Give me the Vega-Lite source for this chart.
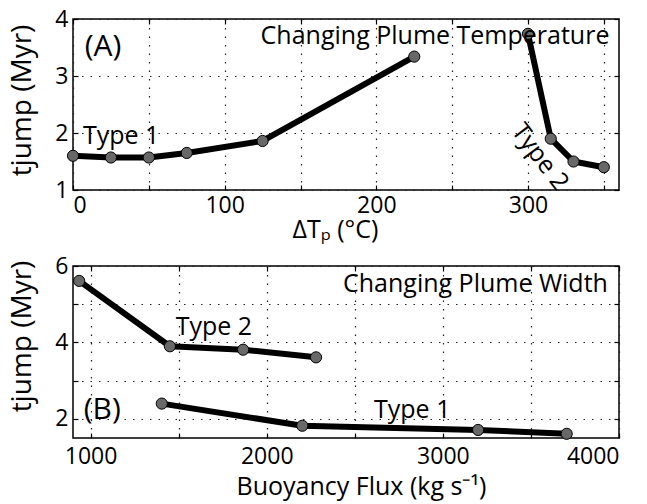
{
  "$schema": "https://vega.github.io/schema/vega-lite/v6.json",
  "autosize": {"type": "none"},
  "padding": {"left": 73, "top": 19, "right": 574, "bottom": 485},
  "background": "white",
  "config": {
    "font": "Open Sans",
    "view": {"stroke": "#000", "strokeWidth": 1.5},
    "axis": {
      "domain": false,
      "tickColor": "#000",
      "tickSize": -5,
      "tickWidth": 1.2,
      "labelColor": "#000",
      "labelFont": "Open Sans",
      "labelFontSize": 23,
      "titleColor": "#000",
      "titleFont": "Open Sans",
      "titleFontWeight": "normal",
      "gridColor": "#222",
      "gridDash": [1.5, 7],
      "gridWidth": 1.2,
      "gridOpacity": 1
    }
  },
  "datasets": {
    "temp": [
      {"dT": 0, "tjump": 1.6, "type": "Type 1"},
      {"dT": 25, "tjump": 1.57, "type": "Type 1"},
      {"dT": 50, "tjump": 1.57, "type": "Type 1"},
      {"dT": 75, "tjump": 1.65, "type": "Type 1"},
      {"dT": 125, "tjump": 1.86, "type": "Type 1"},
      {"dT": 225, "tjump": 3.34, "type": "Type 1"},
      {"dT": 300, "tjump": 3.74, "type": "Type 2"},
      {"dT": 315, "tjump": 1.9, "type": "Type 2"},
      {"dT": 330, "tjump": 1.5, "type": "Type 2"},
      {"dT": 350, "tjump": 1.4, "type": "Type 2"}
    ],
    "flux": [
      {"flux": 935, "tjump": 5.61, "type": "Type 2"},
      {"flux": 1450, "tjump": 3.9, "type": "Type 2"},
      {"flux": 1866, "tjump": 3.81, "type": "Type 2"},
      {"flux": 2280, "tjump": 3.61, "type": "Type 2"},
      {"flux": 1404, "tjump": 2.4, "type": "Type 1"},
      {"flux": 2202, "tjump": 1.82, "type": "Type 1"},
      {"flux": 3200, "tjump": 1.71, "type": "Type 1"},
      {"flux": 3703, "tjump": 1.61, "type": "Type 1"}
    ],
    "tempLabels": [
      {"dT": 238.7, "tjump": 3.7, "label": "Changing Plume Temperature"},
      {"dT": 31.7, "tjump": 1.94, "label": "Type 1"}
    ],
    "tempLetter": [{"dT": 19.8, "tjump": 3.51, "label": "(A)"}],
    "tempRot": [{"dT": 308, "tjump": 1.58, "label": "Type 2"}],
    "fluxLabels": [
      {"flux": 3185, "tjump": 5.52, "label": "Changing Plume Width"},
      {"flux": 1700, "tjump": 4.4, "label": "Type 2"},
      {"flux": 2826, "tjump": 2.22, "label": "Type 1"}
    ],
    "fluxLetter": [{"flux": 1066, "tjump": 2.24, "label": "(B)"}]
  },
  "vconcat": [
    {
      "width": 546,
      "height": 171,
      "resolve": {"axis": {"x": "independent", "y": "independent"}},
      "layer": [
        {
          "data": {"name": "temp"},
          "mark": {"type": "line", "color": "#000", "strokeWidth": 6, "strokeJoin": "round", "strokeCap": "round"},
          "encoding": {
            "x": {"field": "dT", "type": "quantitative",
              "scale": {"domain": [0, 360], "nice": false, "zero": false},
              "axis": {"values": [0, 50, 100, 150, 200, 250, 300, 350],
                "labelExpr": "datum.value % 100 === 0 ? datum.label : ''",
                "grid": true, "labelPadding": 9,
                "title": "ΔTₚ (°C)", "titleFontSize": 25,
                "titleX": 262, "titleY": 47, "titleBaseline": "alphabetic", "titleAlign": "center"}},
            "y": {"field": "tjump", "type": "quantitative",
              "scale": {"domain": [1, 4], "nice": false, "zero": false},
              "axis": {"values": [1, 2, 3, 4], "grid": true, "labelPadding": 10,
                "title": "tjump (Myr)", "titleFontSize": 28,
                "titleX": -43, "titleY": 81, "titleAngle": -90, "titleBaseline": "alphabetic", "titleAlign": "center"}},
            "detail": {"field": "type"}
          }
        },
        {
          "data": {"name": "temp"},
          "mark": {"type": "circle", "fill": "#686868", "stroke": "#000", "strokeWidth": 1, "size": 125, "opacity": 1},
          "encoding": {
            "x": {"field": "dT", "type": "quantitative",
              "scale": {"domain": [0, 360], "nice": false, "zero": false},
              "axis": {"orient": "top", "values": [0, 50, 100, 150, 200, 250, 300, 350], "labels": false, "grid": false, "title": null}},
            "y": {"field": "tjump", "type": "quantitative",
              "scale": {"domain": [1, 4], "nice": false, "zero": false},
              "axis": {"orient": "right", "values": [1, 2, 3, 4], "labels": false, "grid": false, "title": null}}
          }
        },
        {
          "data": {"name": "tempLabels"},
          "mark": {"type": "text", "fontSize": 25, "color": "#000", "align": "center", "baseline": "middle"},
          "encoding": {
            "x": {"field": "dT", "type": "quantitative", "scale": {"domain": [0, 360], "nice": false, "zero": false}, "axis": null},
            "y": {"field": "tjump", "type": "quantitative", "scale": {"domain": [1, 4], "nice": false, "zero": false}, "axis": null},
            "text": {"field": "label"}
          }
        },
        {
          "data": {"name": "tempLetter"},
          "mark": {"type": "text", "fontSize": 30, "color": "#000", "align": "center", "baseline": "middle"},
          "encoding": {
            "x": {"field": "dT", "type": "quantitative", "scale": {"domain": [0, 360], "nice": false, "zero": false}, "axis": null},
            "y": {"field": "tjump", "type": "quantitative", "scale": {"domain": [1, 4], "nice": false, "zero": false}, "axis": null},
            "text": {"field": "label"}
          }
        },
        {
          "data": {"name": "tempRot"},
          "mark": {"type": "text", "fontSize": 25, "color": "#000", "align": "center", "baseline": "middle", "angle": 53},
          "encoding": {
            "x": {"field": "dT", "type": "quantitative", "scale": {"domain": [0, 360], "nice": false, "zero": false}, "axis": null},
            "y": {"field": "tjump", "type": "quantitative", "scale": {"domain": [1, 4], "nice": false, "zero": false}, "axis": null},
            "text": {"field": "label"}
          }
        }
      ]
    },
    {
      "width": 546,
      "height": 172,
      "resolve": {"axis": {"x": "independent", "y": "independent"}},
      "layer": [
        {
          "data": {"name": "flux"},
          "mark": {"type": "line", "color": "#000", "strokeWidth": 6, "strokeJoin": "round", "strokeCap": "round"},
          "encoding": {
            "x": {"field": "flux", "type": "quantitative",
              "scale": {"domain": [900, 4000], "nice": false, "zero": false},
              "axis": {"values": [1000, 1500, 2000, 2500, 3000, 3500, 4000],
                "labelExpr": "datum.value % 1000 === 0 ? datum.label : ''",
                "format": "d",
                "grid": true, "labelPadding": 12,
                "title": "Buoyancy Flux (kg s⁻¹)", "titleFontSize": 25,
                "titleX": 288, "titleY": 56, "titleBaseline": "alphabetic", "titleAlign": "center"}},
            "y": {"field": "tjump", "type": "quantitative",
              "scale": {"domain": [1.5, 6], "nice": false, "zero": false},
              "axis": {"values": [2, 3, 4, 5, 6],
                "labelExpr": "datum.value % 2 === 0 ? datum.label : ''",
                "grid": true, "labelPadding": 10,
                "title": "tjump (Myr)", "titleFontSize": 28,
                "titleX": -43, "titleY": 70, "titleAngle": -90, "titleBaseline": "alphabetic", "titleAlign": "center"}},
            "detail": {"field": "type"}
          }
        },
        {
          "data": {"name": "flux"},
          "mark": {"type": "circle", "fill": "#686868", "stroke": "#000", "strokeWidth": 1, "size": 125, "opacity": 1},
          "encoding": {
            "x": {"field": "flux", "type": "quantitative",
              "scale": {"domain": [900, 4000], "nice": false, "zero": false},
              "axis": {"orient": "top", "values": [1000, 1500, 2000, 2500, 3000, 3500, 4000], "labels": false, "grid": false, "title": null}},
            "y": {"field": "tjump", "type": "quantitative",
              "scale": {"domain": [1.5, 6], "nice": false, "zero": false},
              "axis": {"orient": "right", "values": [2, 3, 4, 5, 6], "labels": false, "grid": false, "title": null}}
          }
        },
        {
          "data": {"name": "fluxLabels"},
          "mark": {"type": "text", "fontSize": 25, "color": "#000", "align": "center", "baseline": "middle"},
          "encoding": {
            "x": {"field": "flux", "type": "quantitative", "scale": {"domain": [900, 4000], "nice": false, "zero": false}, "axis": null},
            "y": {"field": "tjump", "type": "quantitative", "scale": {"domain": [1.5, 6], "nice": false, "zero": false}, "axis": null},
            "text": {"field": "label"}
          }
        },
        {
          "data": {"name": "fluxLetter"},
          "mark": {"type": "text", "fontSize": 30, "color": "#000", "align": "center", "baseline": "middle"},
          "encoding": {
            "x": {"field": "flux", "type": "quantitative", "scale": {"domain": [900, 4000], "nice": false, "zero": false}, "axis": null},
            "y": {"field": "tjump", "type": "quantitative", "scale": {"domain": [1.5, 6], "nice": false, "zero": false}, "axis": null},
            "text": {"field": "label"}
          }
        }
      ]
    }
  ],
  "spacing": 76,
  "bounds": "flush"
}
